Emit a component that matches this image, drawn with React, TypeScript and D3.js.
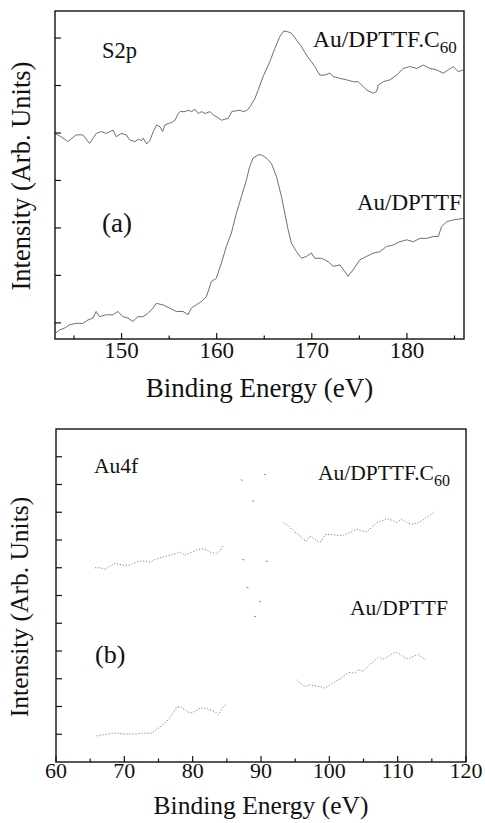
import React from "react";
import * as d3 from "d3";

// ---------- Panel (a): S2p ----------
const s2pC60X = [143.05,143.3,143.65,144.35,145.23,145.93,146.63,147.33,147.86,148.39,149.09,149.44,149.96,150.49,
  150.88,151.41,151.76,152.11,152.28,152.64,152.99,153.33,153.69,154.04,154.32,154.56,154.91,155.27,155.62,155.96,156.14,156.67,157.01,157.37,157.72,158.07,158.42,158.77,159.3,159.64,160.0,160.52,160.87,161.22,161.58,162.1,162.45,162.8,163.15,163.5,164.03,164.37,
  164.88,165.58,166.11,166.63,167.05,167.51,167.86,168.39,168.91,169.44,169.96,170.32,170.84,171.37,171.89,172.25,172.95,173.65,174.35,174.88,175.4,175.75,176.11,176.46,176.81,176.98,177.51,178.21,178.91,179.61,180.32,181.02,181.72,182.42,183.12,183.82,184.35,184.88,185.4,185.93];
const s2pC60Y = [3.99,3.96,3.92,3.82,3.96,3.96,3.78,3.99,4.03,3.99,4.06,3.92,3.99,3.96,
  3.85,3.82,3.87,3.84,3.89,3.77,3.85,4.03,4.17,4.13,4.03,4.17,4.2,4.22,4.27,4.41,4.45,4.45,4.48,4.45,4.5,4.41,4.45,4.41,4.45,4.38,4.34,4.27,4.29,4.31,4.45,4.47,4.48,4.45,4.47,4.55,4.73,4.91,
  5.19,5.5,5.78,6.03,6.15,6.13,6.1,5.96,5.82,5.64,5.5,5.4,5.22,5.22,5.26,5.19,5.15,5.12,5.08,5.08,4.98,4.91,4.87,4.84,4.87,5.01,5.08,5.12,5.22,5.36,5.4,5.36,5.43,5.36,5.33,5.26,5.33,5.4,5.29,5.33];

const s2pX = [143.05,143.47,144.0,144.53,145.23,145.93,146.46,146.98,147.33,147.68,148.39,149.09,149.61,150.14,150.67,151.19,151.72,152.25,152.77,153.3,153.65,154.35,155.05,155.75,156.46,156.98,157.33,157.86,158.39,158.91,159.44,159.96,160.49,161.02,161.54,162.07,162.6,163.12,163.47,163.82,164.35,164.7,165.23,165.75,166.28,166.81,167.16,167.51,167.86,168.39,168.91,169.44,169.96,170.32,171.02,171.72,172.25,172.95,173.47,173.82,174.35,175.05,175.75,176.46,177.16,177.86,178.56,179.26,179.96,180.67,181.37,182.07,182.77,183.3,183.65,184.18,184.88,185.93];
const s2pY = [-0.22,-0.15,-0.11,-0.04,-0.01,-0.01,0.06,0.1,0.24,0.13,0.17,0.17,0.24,0.13,0.1,0.03,0.13,0.13,0.2,0.31,0.41,0.38,0.31,0.24,0.24,0.17,0.31,0.38,0.45,0.55,0.87,0.94,1.26,1.61,1.89,2.31,2.66,3.01,3.29,3.47,3.54,3.54,3.47,3.36,3.08,2.66,2.31,1.96,1.68,1.5,1.36,1.4,1.47,1.36,1.36,1.29,1.19,1.22,1.08,0.98,1.12,1.33,1.4,1.47,1.5,1.61,1.64,1.71,1.75,1.71,1.78,1.78,1.82,1.82,2.03,2.13,2.17,2.2];

const topXTicks = [150, 160, 170, 180];
const topXMinor = [145, 155, 165, 175, 185];
const topYTicks = [0, 1, 2, 3, 4, 5, 6];

// ---------- Panel (b): Au4f ----------
const au4fC60X = [65.71,66.44,67.17,67.9,68.63,69.37,70.1,70.83,71.56,72.29,73.02,73.76,74.49,75.22,76.2,77.17,78.15,78.88,79.61,80.59,81.32,82.05,82.78,83.51,84.0,84.39,
  NaN,
  93.27,94.0,94.73,95.46,96.2,96.68,97.17,97.9,98.39,98.88,99.37,100.1,101.07,102.05,103.02,104.0,104.73,105.46,106.2,106.93,107.66,108.39,109.12,109.85,110.59,111.32,112.05,112.78,113.51,114.24,115.22];
const au4fC60Y = [6.0,6.0,5.94,6.06,6.16,6.12,6.08,6.1,6.18,6.24,6.24,6.2,6.3,6.36,6.42,6.48,6.57,6.45,6.54,6.64,6.69,6.64,6.54,6.52,6.6,6.78,
  NaN,
  7.63,7.51,7.33,7.2,7.02,6.96,7.14,7.02,6.93,6.96,7.2,7.2,7.17,7.17,7.27,7.39,7.33,7.29,7.45,7.63,7.69,7.77,7.72,7.63,7.75,7.63,7.57,7.6,7.69,7.81,7.99];

const au4fX = [65.95,68.39,69.12,69.85,70.83,71.8,72.54,73.27,74.0,74.73,75.46,76.2,76.93,77.66,78.15,78.88,79.61,80.34,81.07,81.8,82.54,83.27,83.76,84.49,84.98,
  NaN,
  95.22,95.71,96.44,97.17,97.9,98.63,99.37,100.1,100.83,101.56,102.29,103.02,103.76,104.24,104.98,105.71,106.44,107.17,107.9,108.63,109.37,110.1,110.83,111.56,112.29,113.02,113.51,114.0,114.24];
const au4fY = [-0.06,0.04,0.04,0.01,0.01,0.01,0.04,0.04,0.04,0.18,0.3,0.46,0.7,0.98,1.0,0.88,0.76,0.82,0.94,0.94,0.88,0.82,0.7,1.0,1.08,
  NaN,
  1.96,1.84,1.72,1.78,1.75,1.72,1.66,1.78,1.9,1.99,2.14,2.23,2.2,2.33,2.27,2.45,2.63,2.78,2.71,2.81,2.93,2.93,2.78,2.71,2.81,2.87,2.78,2.69,2.75];

// isolated points of the Au4f peaks region
const au4fPeakX = [87.18, 90.59, 88.87, 87.41, 90.84, 88.03, 89.86, 89.12];
const au4fPeakY = [9.17, 9.37, 8.41, 6.3, 6.24, 5.29, 4.8, 4.25];

const botXTicks = [60, 70, 80, 90, 100, 110, 120];
const botXMinor = [65, 75, 85, 95, 105, 115];
const botYTicks = [0, 1, 2, 3, 4, 5, 6, 7, 8, 9, 10];

const FONT = "'Liberation Serif', Tinos, 'Nimbus Roman', 'Nimbus Roman No9 L', FreeSerif, 'Noto Serif', 'DejaVu Serif', Times, 'Times New Roman', serif";

type Series = { x: number[]; y: number[]; dotted?: boolean };

function Panel(props: {
  left: number; right: number; top: number; bottom: number;
  xDomain: [number, number]; yDomain: [number, number];
  xTicks: number[]; xMinor: number[]; yTicks: number[];
  series: Series[]; pts?: { x: number[]; y: number[] };
  tickFont: number; tickBase: number; titleFont: number; titleBase: number;
  yTitleX: number; yTitleY: number; yTitleFont: number;
  labels: React.ReactNode;
}) {
  const x = d3.scaleLinear().domain(props.xDomain).range([props.left, props.right]);
  const y = d3.scaleLinear().domain(props.yDomain).range([props.bottom, props.top]);
  const line = d3.line<[number, number]>()
    .defined((d) => !isNaN(d[0]) && !isNaN(d[1]))
    .x((d) => x(d[0]))
    .y((d) => y(d[1]))
    .curve(d3.curveLinear);
  const txt = { fontFamily: FONT };
  return (
    <g>
      {props.series.map((s, i) => (
        <path key={i}
          d={line(s.x.map((v, j) => [v, s.y[j]] as [number, number])) || ""}
          fill="none"
          stroke={s.dotted ? "#8a8a8a" : "#4a4a4a"}
          strokeWidth={s.dotted ? 1 : 0.8}
          strokeDasharray={s.dotted ? "1.3 1.7" : undefined}
        />
      ))}
      {props.pts && props.pts.x.map((v, i) => (
        <line key={i} x1={x(v) - 1} x2={x(v) + 1} y1={y(props.pts!.y[i])} y2={y(props.pts!.y[i]) + 0.5}
          stroke="#8a8a8a" strokeWidth={1} />
      ))}
      <rect x={props.left} y={props.top} width={props.right - props.left} height={props.bottom - props.top}
        fill="none" stroke="#111" strokeWidth={1.4} />
      {props.yTicks.map((t) => (
        <line key={"yt" + t} x1={props.left} x2={props.left + 6} y1={y(t)} y2={y(t)} stroke="#111" strokeWidth={1.2} />
      ))}
      {props.xTicks.map((t) => (
        <line key={"xt" + t} x1={x(t)} x2={x(t)} y1={props.bottom} y2={props.bottom - 6} stroke="#111" strokeWidth={1.2} />
      ))}
      {props.xMinor.map((t) => (
        <line key={"xm" + t} x1={x(t)} x2={x(t)} y1={props.bottom} y2={props.bottom - 3.5} stroke="#111" strokeWidth={1.2} />
      ))}
      {props.xTicks.map((t) => (
        <text key={"xl" + t} x={x(t)} y={props.tickBase} textAnchor="middle" style={txt}
          fontSize={props.tickFont} fill="#111">{t}</text>
      ))}
      <text x={(props.left + props.right) / 2} y={props.titleBase} textAnchor="middle" style={txt}
        fontSize={props.titleFont} fill="#111">Binding Energy (eV)</text>
      <text transform={`translate(${props.yTitleX},${props.yTitleY}) rotate(-90)`} textAnchor="middle"
        style={txt} fontSize={props.yTitleFont} fill="#111">Intensity (Arb. Units)</text>
      {props.labels}
    </g>
  );
}

export default function App() {
  const txt = { fontFamily: FONT };
  return (
    <svg width={485} height={823} style={{ position: "absolute", left: 0, top: 0, background: "#fff" }}>
      <Panel left={55} right={464} top={11} bottom={339}
        xDomain={[143, 186]} yDomain={[-0.34, 6.57]}
        xTicks={topXTicks} xMinor={topXMinor} yTicks={topYTicks}
        series={[{ x: s2pC60X, y: s2pC60Y }, { x: s2pX, y: s2pY }]}
        tickFont={23} tickBase={358} titleFont={27} titleBase={397}
        yTitleX={30} yTitleY={176} yTitleFont={26.5}
        labels={
          <g style={txt} fill="#111">
            <text x={102} y={58} fontSize={22.5} style={txt}>S2p</text>
            <text x={313} y={47} fontSize={23.5} style={txt}>Au/DPTTF.C<tspan fontSize={17} dy={6}>60</tspan></text>
            <text x={102} y={232} fontSize={27} style={txt}>(a)</text>
            <text x={357} y={210} fontSize={23} style={txt}>Au/DPTTF</text>
          </g>
        }
      />
      <Panel left={56} right={466} top={429} bottom={762}
        xDomain={[60, 120]} yDomain={[-1, 11]}
        xTicks={botXTicks} xMinor={botXMinor} yTicks={botYTicks}
        series={[{ x: au4fC60X, y: au4fC60Y, dotted: true }, { x: au4fX, y: au4fY, dotted: true }]}
        pts={{ x: au4fPeakX, y: au4fPeakY }}
        tickFont={22} tickBase={778} titleFont={25.5} titleBase={814}
        yTitleX={28} yTitleY={607} yTitleFont={25.5}
        labels={
          <g style={txt} fill="#111">
            <text x={94} y={473} fontSize={21.5} style={txt}>Au4f</text>
            <text x={318} y={480} fontSize={21.5} style={txt}>Au/DPTTF.C<tspan fontSize={16} dy={6}>60</tspan></text>
            <text x={95} y={663} fontSize={26} style={txt}>(b)</text>
            <text x={350} y={615} fontSize={21.5} style={txt}>Au/DPTTF</text>
          </g>
        }
      />
    </svg>
  );
}
